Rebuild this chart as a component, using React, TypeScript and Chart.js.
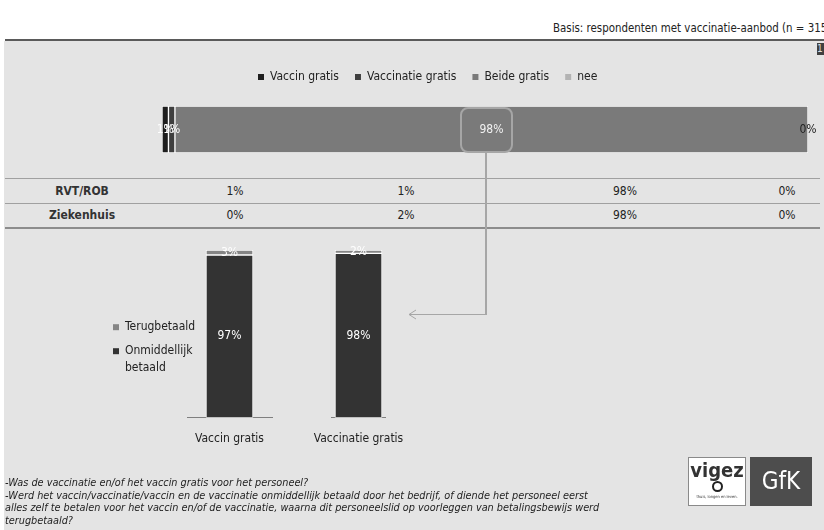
import React, { useEffect, useRef } from 'react';
import { Chart, registerables } from 'chart.js';

Chart.register(...registerables);

const FONT = "Tahoma, 'DejaVu Sans Condensed', 'Liberation Sans', Arial, sans-serif";

// ---- data ----
const topCategories = ['Totaal'];
const topSeries = ['Vaccin gratis', 'Vaccinatie gratis', 'Beide gratis', 'nee'];
const topValues = [1, 1, 98, 0];
const topColors = ['#1e1e1e', '#3f3f3f', '#7a7a7a', '#b3b3b3'];
const topLabelColors = ['#ffffff', '#ffffff', '#f2f2f2', '#222222'];

const tableRowLabels = ['RVT/ROB', 'Ziekenhuis'];
const rvtRobValues = ['1%', '1%', '98%', '0%'];
const ziekenhuisValues = ['0%', '2%', '98%', '0%'];

const payCategories = ['Vaccin gratis', 'Vaccinatie gratis'];
const paySeries = ['Onmiddellijk betaald', 'Terugbetaald'];
const onmiddellijkValues = [97, 98];
const terugbetaaldValues = [3, 2];
const payColors = ['#333333', '#858585'];

// ---- plugins ----
const valueLabels = {
  id: 'valueLabels',
  afterDatasetsDraw(chart: any) {
    const ctx = chart.ctx;
    ctx.save();
    ctx.font = `12px ${FONT}`;
    ctx.textAlign = 'center';
    ctx.textBaseline = 'middle';
    chart.data.datasets.forEach((ds: any, di: number) => {
      const meta = chart.getDatasetMeta(di);
      meta.data.forEach((el: any, i: number) => {
        const p = el.getCenterPoint();
        ctx.fillStyle = ds.labelColor || '#fff';
        ctx.fillText(`${ds.data[i]}%`, p.x, p.y);
      });
    });
    ctx.restore();
  },
};

function legendSizePlugin(
  size: { width?: number; height?: number },
  place?: { left?: number; right?: number; bottomShift?: number }
) {
  return {
    id: 'legendSize',
    beforeLayout(chart: any) {
      const legend = chart.legend;
      if (legend && !legend.__patched) {
        const orig = legend.fit;
        legend.fit = function () {
          orig.call(this);
          if (size.width !== undefined) this.width = size.width;
          if (size.height !== undefined) this.height = size.height;
        };
        legend.__patched = true;
      }
    },
    afterLayout(chart: any) {
      const legend = chart.legend;
      if (place && legend) {
        if (place.left !== undefined) legend.left = place.left;
        if (place.right !== undefined) legend.right = place.right;
        if (place.bottomShift !== undefined) legend.bottom = legend.bottom + place.bottomShift;
      }
    },
  };
}

const legendLabels = (reverse: boolean, multiline: boolean, lineHeight: number) => ({
  boxWidth: 6,
  boxHeight: 6,
  color: '#222',
  font: { size: 12, family: FONT, lineHeight },
  generateLabels: (chart: any) => {
    const items = chart.data.datasets.map((ds: any, i: number) => ({
      text: multiline && ds.label.length > 14 ? ds.label.split(' ') : ds.label,
      fillStyle: ds.backgroundColor,
      strokeStyle: ds.backgroundColor,
      lineWidth: 0,
      hidden: false,
      datasetIndex: i,
      fontColor: '#222',
    }));
    return reverse ? items.reverse() : items;
  },
});

function TopBar() {
  const ref = useRef<HTMLCanvasElement>(null);
  useEffect(() => {
    const chart = new Chart(ref.current as HTMLCanvasElement, {
      type: 'bar',
      data: {
        labels: topCategories,
        datasets: topSeries.map((s, i) => ({
          label: s,
          data: [topValues[i]],
          backgroundColor: topColors[i],
          borderColor: '#ffffff',
          borderWidth: 1,
          borderSkipped: false,
          barPercentage: 1,
          categoryPercentage: 1,
          labelColor: topLabelColors[i],
        })) as any,
      },
      options: {
        indexAxis: 'y',
        responsive: false,
        animation: false,
        layout: { padding: { left: 12, right: 16, top: 0, bottom: 0 } },
        scales: {
          x: { stacked: true, min: 0, max: 100, display: false },
          y: { stacked: true, display: false },
        },
        plugins: {
          legend: { position: 'top', align: 'start', labels: { ...legendLabels(false, false, 1.2), padding: 16 } as any },
          tooltip: { enabled: false },
        },
      },
      plugins: [valueLabels, legendSizePlugin({ height: 51 }, { left: 92, right: 674 })],
    });
    return () => chart.destroy();
  }, []);
  return <canvas ref={ref} width={674} height={98} style={{ position: 'absolute', left: 150, top: 55, width: 674, height: 98 }} />;
}

function PayBar({ index, withLegend }: { index: number; withLegend: boolean }) {
  const ref = useRef<HTMLCanvasElement>(null);
  const left = withLegend ? 101 : 297;
  const width = withLegend ? 191 : 123;
  useEffect(() => {
    const chart = new Chart(ref.current as HTMLCanvasElement, {
      type: 'bar',
      data: {
        labels: [payCategories[index]],
        datasets: [
          {
            label: paySeries[0],
            data: [onmiddellijkValues[index]],
            backgroundColor: payColors[0],
          },
          {
            label: paySeries[1],
            data: [terugbetaaldValues[index]],
            backgroundColor: payColors[1],
          },
        ].map((d) => ({
          ...d,
          borderColor: '#ffffff',
          borderWidth: 1,
          borderSkipped: false,
          barThickness: 47,
          labelColor: '#ffffff',
        })) as any,
      },
      options: {
        responsive: false,
        animation: false,
        layout: { padding: { left: withLegend ? 0 : 20, right: 20, top: 10, bottom: 0 } },
        scales: {
          x: {
            stacked: true,
            grid: { display: false, drawTicks: false },
            border: { display: true, color: '#7f7f7f', width: 1 },
            ticks: { color: '#222', padding: 14, font: { size: 12, family: FONT } },
          },
          y: { stacked: true, min: 0, max: 100, display: false },
        },
        plugins: {
          legend: withLegend
            ? { display: true, position: 'left', align: 'center', labels: { ...legendLabels(true, true, 1.4), padding: 12 } as any }
            : { display: false },
          tooltip: { enabled: false },
        },
      },
      plugins: withLegend
        ? [valueLabels, legendSizePlugin({ width: 86 }, { left: 0, right: 105, bottomShift: -10 })]
        : [valueLabels],
    });
    return () => chart.destroy();
  }, []);
  return <canvas ref={ref} width={width} height={220} style={{ position: 'absolute', left, top: 240, width, height: 220 }} />;
}

const tableCols = [235, 406, 625, 787];

export default function App() {
  const cell = (x: number, y: number, text: string, bold = false) => (
    <div
      key={`${x}-${y}`}
      style={{
        position: 'absolute',
        left: x - 70,
        width: 140,
        top: y - 8,
        height: 16,
        lineHeight: '16px',
        textAlign: 'center',
        fontSize: 12,
        fontWeight: bold ? 'bold' : 'normal',
        color: bold ? '#333' : '#222',
      }}
    >
      {text}
    </div>
  );
  return (
    <div
      style={{
        position: 'absolute',
        left: 0,
        top: 0,
        width: 824,
        height: 530,
        overflow: 'hidden',
        background: '#ffffff',
        fontFamily: FONT,
      }}
    >
      <div style={{ position: 'absolute', left: 4, top: 41, width: 820, height: 489, background: '#e4e4e4' }} />
      <div style={{ position: 'absolute', left: 5, top: 39, width: 819, height: 2, background: '#5a5a5a' }} />
      <div style={{ position: 'absolute', left: 553, top: 21, fontSize: 11.4, color: '#222', whiteSpace: 'nowrap', lineHeight: '14px' }}>
        Basis: respondenten met vaccinatie-aanbod (n = 315)
      </div>
      <div style={{ position: 'absolute', left: 817, top: 43, width: 7, height: 12, background: '#404040', color: '#ddd', fontSize: 10, lineHeight: '12px', overflow: 'hidden' }}>
        1
      </div>

      <TopBar />

      {/* table */}
      <div style={{ position: 'absolute', left: 5, top: 178, width: 815, height: 1, background: '#a0a0a0' }} />
      <div style={{ position: 'absolute', left: 5, top: 203, width: 815, height: 1, background: '#a0a0a0' }} />
      <div style={{ position: 'absolute', left: 5, top: 227, width: 815, height: 2, background: '#8c8c8c' }} />
      {cell(82, 191, tableRowLabels[0], true)}
      {cell(82, 215, tableRowLabels[1], true)}
      {rvtRobValues.map((v, i) => cell(tableCols[i], 191, v))}
      {ziekenhuisValues.map((v, i) => cell(tableCols[i], 215, v))}

      <PayBar index={0} withLegend={true} />
      <PayBar index={1} withLegend={false} />

      <svg width={824} height={530} style={{ position: 'absolute', left: 0, top: 0, pointerEvents: 'none' }}>
        <rect x={461} y={108} width={51} height={44} rx={7} ry={7} fill="none" stroke="#a6a6a6" strokeWidth={2} />
        <line x1={486} y1={152} x2={486} y2={315} stroke="#a6a6a6" strokeWidth={2} />
        <line x1={487} y1={314.5} x2={409} y2={314.5} stroke="#a6a6a6" strokeWidth={1} />
        <polyline points="416,310 409,314.5 416,319" fill="none" stroke="#a6a6a6" strokeWidth={1} />
      </svg>

      {/* footnotes */}
      <div style={{ position: 'absolute', left: 5, top: 477, fontSize: 10.8, fontStyle: 'italic', lineHeight: '12.7px', color: '#222', whiteSpace: 'nowrap' }}>
        -Was de vaccinatie en/of het vaccin gratis voor het personeel?
        <br />
        -Werd het vaccin/vaccinatie/vaccin en de vaccinatie onmiddellijk betaald door het bedrijf, of diende het personeel eerst
        <br />
        alles zelf te betalen voor het vaccin en/of de vaccinatie, waarna dit personeelslid op voorleggen van betalingsbewijs werd
        <br />
        terugbetaald?
      </div>

      {/* logos */}
      <div style={{ position: 'absolute', left: 688, top: 457, width: 56, height: 47, background: '#ffffff', border: '1px solid #8a8a8a' }}>
        <div style={{ position: 'absolute', left: 0, top: 2, width: 56, textAlign: 'center', fontSize: 20, fontWeight: 'bold', color: '#333', lineHeight: '20px' }}>vigez</div>
        <div style={{ position: 'absolute', left: 23, top: 23, width: 7, height: 7, borderRadius: '50%', border: '2px solid #222' }} />
        <div style={{ position: 'absolute', left: 0, top: 36, width: 56, textAlign: 'center', fontSize: 4, color: '#333', lineHeight: '5px' }}>thuis, longen en leven.</div>
      </div>
      <div style={{ position: 'absolute', left: 750, top: 457, width: 62, height: 49, background: '#4d4d4d', color: '#ffffff', fontSize: 24, lineHeight: '49px', textAlign: 'center' }}>
        GfK
      </div>
    </div>
  );
}
